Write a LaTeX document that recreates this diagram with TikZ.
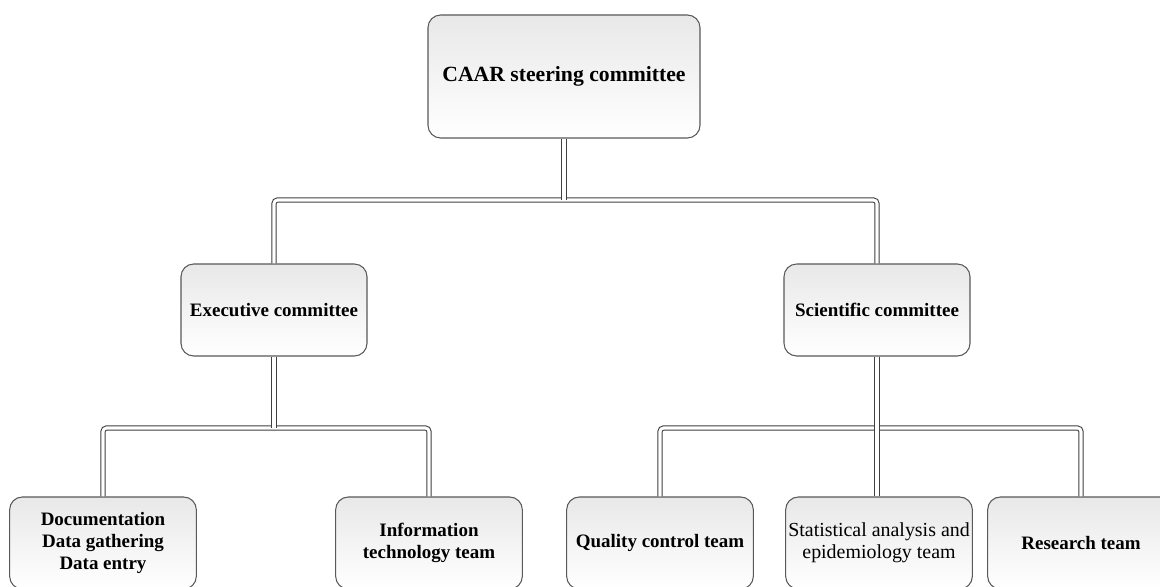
\documentclass[tikz,border=0pt]{standalone}
\usepackage{fontspec}
\setmainfont{Liberation Serif}
\usetikzlibrary{positioning}

\begin{document}
\begin{tikzpicture}[
    x=0.03cm, y=-0.03cm,
    every node/.style={font=\bfseries\fontsize{16.2}{19}\selectfont},
    unit/.style={draw=black!65, line width=0.9pt, rounded corners=0.38cm, align=center,
        top color=black!9, bottom color=white, inner sep=1pt},
    topunit/.style={unit, minimum width=8.16cm, minimum height=3.69cm,
        font=\bfseries\fontsize{18.5}{22}\selectfont},
    midunit/.style={unit, minimum width=5.58cm, minimum height=2.76cm},
    team/.style={unit, minimum width=5.6cm, minimum height=2.76cm},
    link/.style={draw=black!75, line width=0.9pt, double=white, double distance=2.6pt, rounded corners=3pt}
]
\clip (0,0) rectangle (1160,586);
\fill[white] (0,0) rectangle (1160,586);

\node[topunit] (caar) at (564,76.5) {CAAR steering committee};
\node[midunit] (exec) at (274,310) {Executive committee};
\node[midunit] (sci) at (877,310) {Scientific committee};

\node[team] (doc) at (103,543) {Documentation\\Data gathering\\Data entry};
\node[team] (it) at (429,543) {Information\\technology team};
\node[team] (qual) at (660,543) {Quality control team};
\node[team, font=\fontsize{17}{19}\selectfont] (stat) at (879,543) {Statistical analysis and\\epidemiology team};
\node[team] (res) at (1081,543) {Research team};

\coordinate (bar1) at (564,200);
\coordinate (bar2) at (274,428);
\coordinate (bar3) at (878,428);

% top level
\draw[link] (exec.north) -- (exec.north |- bar1) -- (sci.north |- bar1) -- (sci.north);
\draw[link] (caar.south) -- (bar1);
% executive teams
\draw[link] (doc.north) -- (doc.north |- bar2) -- (it.north |- bar2) -- (it.north);
\draw[link] (exec.south) -- (bar2);
% scientific teams
\draw[link] (qual.north) -- (qual.north |- bar3) -- (res.north |- bar3) -- (res.north);
\draw[link] (sci.south) -- (sci.south |- stat.north);
\end{tikzpicture}
\end{document}
